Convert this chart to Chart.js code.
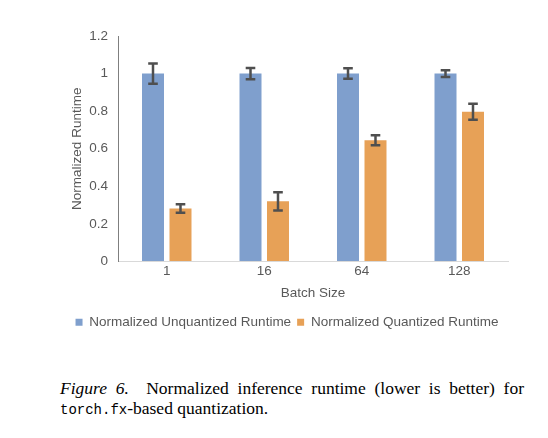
<!DOCTYPE html>
<html>
<head>
<meta charset="utf-8">
<script src="https://cdn.jsdelivr.net/npm/chart.js@4"></script>
<style>
  html, body { margin: 0; padding: 0; background: #fff; }
  #wrap { position: relative; width: 548px; height: 438px; overflow: hidden; }
  #c { position: absolute; left: 0; top: 0; }
  .cap { position: absolute; left: 60px; width: 464px; font-family: "Liberation Serif", "Times New Roman", serif; font-size: 17.5px; line-height: 20px; color: #000; white-space: nowrap; }
  #l1 { top: 378px; text-align: justify; text-align-last: justify; white-space: normal; }
  #l2 { top: 398px; }
  .mono { font-family: "Liberation Mono", "DejaVu Sans Mono", monospace; font-size: 14px; }
</style>
</head>
<body>
<div id="wrap">
  <canvas id="c" width="548" height="345"></canvas>
  <div class="cap" id="l1"><i>Figure 6.</i>&nbsp; Normalized inference runtime (lower is better) for</div>
  <div class="cap" id="l2"><span class="mono">torch.fx</span>-based quantization.</div>
</div>
<script>
const categories = ["1", "16", "64", "128"];
const unquantized = [1.0, 1.0, 1.0, 1.0];
const unquantizedErr = [0.054, 0.030, 0.028, 0.018];
const quantized = [0.282, 0.320, 0.645, 0.797];
const quantizedErr = [0.022, 0.048, 0.027, 0.043];
const yTicks = [0, 0.2, 0.4, 0.6, 0.8, 1, 1.2];
const seriesNames = ["Normalized Unquantized Runtime", "Normalized Quantized Runtime"];

const FONT = "'Liberation Sans', Arial, Helvetica, sans-serif";
const TXT = "#595959";

const errorBars = {
  id: 'errorBars',
  afterDatasetsDraw(chart) {
    const ctx = chart.ctx;
    const y = chart.scales.y;
    chart.data.datasets.forEach((ds, di) => {
      const meta = chart.getDatasetMeta(di);
      meta.data.forEach((bar, i) => {
        const v = ds.data[i], e = ds.errors[i];
        const top = y.getPixelForValue(v + e);
        const bot = y.getPixelForValue(v - e);
        const x = bar.x;
        ctx.save();
        ctx.strokeStyle = "#4f4f4f";
        ctx.lineWidth = 2.5;
        ctx.beginPath();
        ctx.moveTo(x, top); ctx.lineTo(x, bot);
        ctx.moveTo(x - 4.8, top); ctx.lineTo(x + 4.8, top);
        ctx.moveTo(x - 4.8, bot); ctx.lineTo(x + 4.8, bot);
        ctx.stroke();
        ctx.restore();
      });
    });
  }
};

new Chart(document.getElementById('c'), {
  type: 'bar',
  data: {
    labels: categories,
    datasets: [
      { label: seriesNames[0], data: unquantized, errors: unquantizedErr, backgroundColor: "#7F9FCD",
        barPercentage: 0.8, categoryPercentage: 0.564 },
      { label: seriesNames[1], data: quantized, errors: quantizedErr, backgroundColor: "#E7A157",
        barPercentage: 0.8, categoryPercentage: 0.564 }
    ]
  },
  options: {
    responsive: false,
    animation: false,
    devicePixelRatio: 1,
    layout: { padding: { left: 66, right: 40, top: 36, bottom: 6 } },
    plugins: {
      tooltip: { enabled: false },
      legend: {
        position: 'bottom',
        labels: { font: { family: FONT, size: 13.5 }, color: TXT, boxWidth: 7, boxHeight: 7, padding: 6 }
      }
    },
    scales: {
      x: {
        grid: { display: true, drawOnChartArea: false, drawTicks: false },
        border: { display: true, color: "#d9d9d9", width: 1 },
        ticks: { font: { family: FONT, size: 13.5 }, color: TXT, padding: 2, maxRotation: 0 },
        title: { display: true, text: "Batch Size", font: { family: FONT, size: 13.5 }, color: TXT, padding: { top: 0, bottom: 8 } },
        afterFit(s) { s.height = 48; s.paddingLeft = 0; s.paddingRight = 0; }
      },
      y: {
        min: 0, max: 1.2,
        afterBuildTicks(s) { s.ticks = yTicks.map(v => ({ value: v })); },
        grid: { display: true, drawOnChartArea: false, drawTicks: false },
        border: { display: true, color: "#7f7f7f", width: 1 },
        ticks: { font: { family: FONT, size: 13.5 }, color: TXT, padding: 10,
                 callback: v => String(Number(v.toFixed(1))) },
        title: { display: true, text: "Normalized Runtime", font: { family: FONT, size: 13.5 }, color: TXT, padding: { top: 3, bottom: 0 } },
        afterFit(s) { s.width = 52; s.paddingTop = 0; s.paddingBottom = 0; }
      }
    }
  },
  plugins: [errorBars]
});
</script>
</body>
</html>
